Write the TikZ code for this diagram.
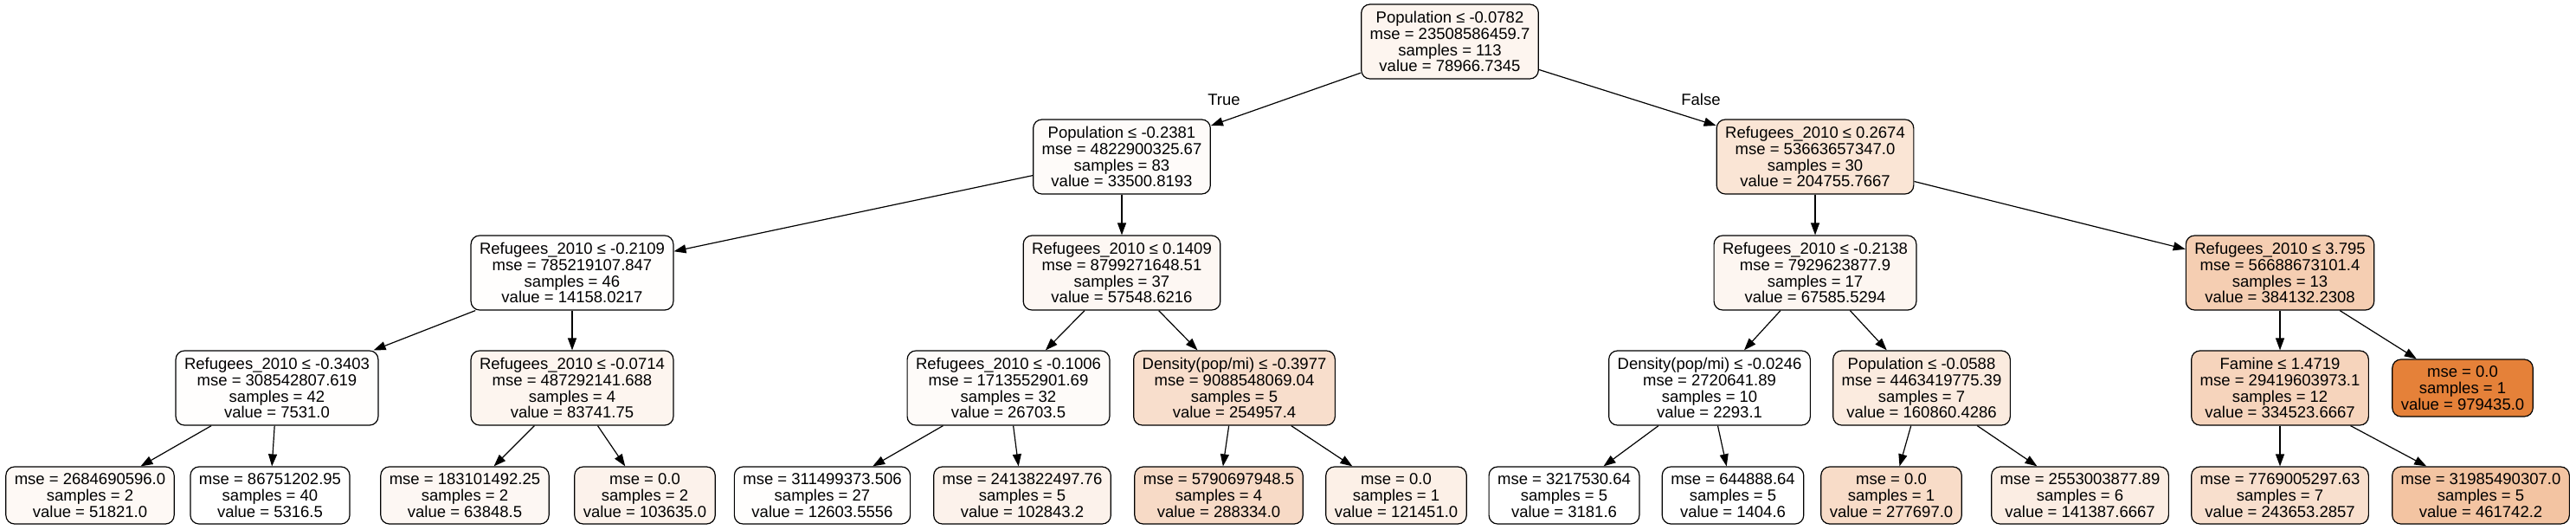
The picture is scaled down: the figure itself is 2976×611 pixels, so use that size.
\documentclass[tikz,border=0pt]{standalone}
\usepackage{fontspec}
\setmainfont{Liberation Sans}
\usepackage{tikz}
\usetikzlibrary{arrows.meta}
\definecolor{mseorange}{RGB}{229,129,57}

\begin{document}
\begin{tikzpicture}[x=1pt,y=-1pt,
	split/.style={shape=rectangle,rounded corners=10pt,draw=black,line width=1.2pt,align=center,
		inner xsep=10pt,inner ysep=0pt,minimum height=86pt,font=\fontsize{18.5}{18.9}\selectfont},
	leaf/.style={split,minimum height=66pt},
	arr/.style={-{Triangle[length=14pt,width=10pt]},line width=1.2pt},
	lbl/.style={font=\fontsize{18.5}{18.9}\selectfont}]
	\useasboundingbox (0,0) rectangle (2976,611);
	\node[split,fill=mseorange!8!white]  (r)    at (1675, 48)  {Population ≤ -0.0782\\mse = 23508586459.7\\samples = 113\\value = 78966.7345};
	\node[split,fill=mseorange!3!white]  (rl)   at (1296,181)  {Population ≤ -0.2381\\mse = 4822900325.67\\samples = 83\\value = 33500.8193};
	\node[split,fill=mseorange!21!white] (rr)   at (2097,181)  {Refugees\_2010 ≤ 0.2674\\mse = 53663657347.0\\samples = 30\\value = 204755.7667};
	\node[split,fill=mseorange!1!white]  (rll)  at (661,315)   {Refugees\_2010 ≤ -0.2109\\mse = 785219107.847\\samples = 46\\value = 14158.0217};
	\node[split,fill=mseorange!6!white]  (rlr)  at (1296,315)  {Refugees\_2010 ≤ 0.1409\\mse = 8799271648.51\\samples = 37\\value = 57548.6216};
	\node[split,fill=mseorange!7!white]  (rrl)  at (2097,315)  {Refugees\_2010 ≤ -0.2138\\mse = 7929623877.9\\samples = 17\\value = 67585.5294};
	\node[split,fill=mseorange!39!white] (rrr)  at (2634,315)  {Refugees\_2010 ≤ 3.795\\mse = 56688673101.4\\samples = 13\\value = 384132.2308};
	\node[split,fill=mseorange!1!white]  (rlll) at (320,448)   {Refugees\_2010 ≤ -0.3403\\mse = 308542807.619\\samples = 42\\value = 7531.0};
	\node[split,fill=mseorange!8!white]  (rllr) at (661,448)   {Refugees\_2010 ≤ -0.0714\\mse = 487292141.688\\samples = 4\\value = 83741.75};
	\node[split,fill=mseorange!3!white]  (rlrl) at (1165,448)  {Refugees\_2010 ≤ -0.1006\\mse = 1713552901.69\\samples = 32\\value = 26703.5};
	\node[split,fill=mseorange!26!white] (rlrr) at (1426,448)  {Density(pop/mi) ≤ -0.3977\\mse = 9088548069.04\\samples = 5\\value = 254957.4};
	\node[split,fill=white]              (rrll) at (1975,448)  {Density(pop/mi) ≤ -0.0246\\mse = 2720641.89\\samples = 10\\value = 2293.1};
	\node[split,fill=mseorange!16!white] (rrlr) at (2220,448)  {Population ≤ -0.0588\\mse = 4463419775.39\\samples = 7\\value = 160860.4286};
	\node[split,fill=mseorange!34!white] (rrrl) at (2634,448)  {Famine ≤ 1.4719\\mse = 29419603973.1\\samples = 12\\value = 334523.6667};
	\node[leaf,fill=mseorange]           (rrrr) at (2845,448)  {mse = 0.0\\samples = 1\\value = 979435.0};
	\node[leaf,fill=mseorange!5!white]   (l1)   at (104,572)   {mse = 2684690596.0\\samples = 2\\value = 51821.0};
	\node[leaf,fill=white]               (l2)   at (312,572)   {mse = 86751202.95\\samples = 40\\value = 5316.5};
	\node[leaf,fill=mseorange!6!white]   (l3)   at (537,572)   {mse = 183101492.25\\samples = 2\\value = 63848.5};
	\node[leaf,fill=mseorange!10!white]  (l4)   at (745,572)   {mse = 0.0\\samples = 2\\value = 103635.0};
	\node[leaf,fill=mseorange!1!white]   (l5)   at (950,572)   {mse = 311499373.506\\samples = 27\\value = 12603.5556};
	\node[leaf,fill=mseorange!10!white]  (l6)   at (1181,572)  {mse = 2413822497.76\\samples = 5\\value = 102843.2};
	\node[leaf,fill=mseorange!29!white]  (l7)   at (1408,572)  {mse = 5790697948.5\\samples = 4\\value = 288334.0};
	\node[leaf,fill=mseorange!12!white]  (l8)   at (1613,572)  {mse = 0.0\\samples = 1\\value = 121451.0};
	\node[leaf,fill=white]               (l9)   at (1807,572)  {mse = 3217530.64\\samples = 5\\value = 3181.6};
	\node[leaf,fill=white]               (l10)  at (2002,572)  {mse = 644888.64\\samples = 5\\value = 1404.6};
	\node[leaf,fill=mseorange!28!white]  (l11)  at (2185,572)  {mse = 0.0\\samples = 1\\value = 277697.0};
	\node[leaf,fill=mseorange!14!white]  (l12)  at (2403,572)  {mse = 2553003877.89\\samples = 6\\value = 141387.6667};
	\node[leaf,fill=mseorange!25!white]  (l13)  at (2634,572)  {mse = 7769005297.63\\samples = 7\\value = 243653.2857};
	\node[leaf,fill=mseorange!47!white]  (l14)  at (2866,572)  {mse = 31985490307.0\\samples = 5\\value = 461742.2};
	\node[lbl] (ltrue)  at (1414,115) {True};
	\node[lbl] (lfalse) at (1965,115) {False};
	\path[arr] (r) edge (rl);
	\path[arr] (r) edge (rr);
	\path[arr] (rl) edge (rll);
	\path[arr] (rl) edge (rlr);
	\path[arr] (rr) edge (rrl);
	\path[arr] (rr) edge (rrr);
	\path[arr] (rll) edge (rlll);
	\path[arr] (rll) edge (rllr);
	\path[arr] (rlr) edge (rlrl);
	\path[arr] (rlr) edge (rlrr);
	\path[arr] (rrl) edge (rrll);
	\path[arr] (rrl) edge (rrlr);
	\path[arr] (rrr) edge (rrrl);
	\path[arr] (rrr) edge (rrrr);
	\path[arr] (rlll) edge (l1);
	\path[arr] (rlll) edge (l2);
	\path[arr] (rllr) edge (l3);
	\path[arr] (rllr) edge (l4);
	\path[arr] (rlrl) edge (l5);
	\path[arr] (rlrl) edge (l6);
	\path[arr] (rlrr) edge (l7);
	\path[arr] (rlrr) edge (l8);
	\path[arr] (rrll) edge (l9);
	\path[arr] (rrll) edge (l10);
	\path[arr] (rrlr) edge (l11);
	\path[arr] (rrlr) edge (l12);
	\path[arr] (rrrl) edge (l13);
	\path[arr] (rrrl) edge (l14);
\end{tikzpicture}
\end{document}
